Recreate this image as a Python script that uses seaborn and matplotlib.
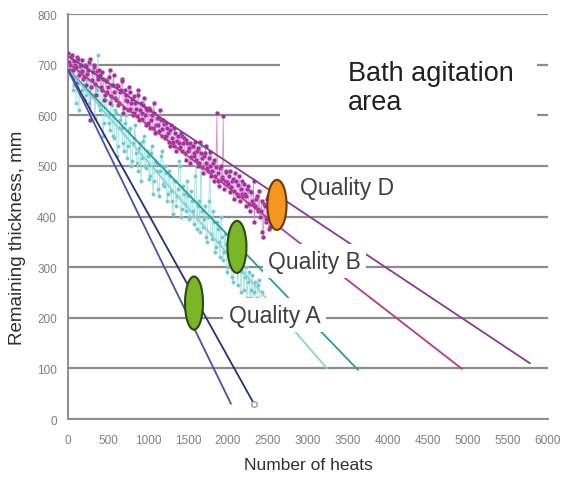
import matplotlib
matplotlib.use("Agg")
import matplotlib.pyplot as plt
from matplotlib.patches import Ellipse, Rectangle
import seaborn as sns
import pandas as pd

sns.set_style("white")
plt.rcParams['font.family'] = ['Liberation Sans', 'DejaVu Sans']

# ---- data ----
mag_x = list(range(0, 2561, 20))
mag_y = [722, 700, 715, 690, 708, 695, 712, 680, 700, 688,
         675, 698, 682, 705, 590, 670, 695, 662, 688, 672,
         680, 650, 672, 640, 668, 655, 690, 638, 660, 645,
         630, 658, 625, 650, 668, 615, 640, 628, 655, 612,
         632, 605, 625, 598, 640, 610, 592, 620, 600, 615,
         585, 610, 590, 575, 605, 580, 595, 568, 590, 572,
         582, 560, 575, 548, 570, 555, 540, 565, 550, 560,
         538, 560, 545, 525, 552, 530, 545, 518, 540, 525,
         512, 535, 505, 525, 498, 520, 540, 495, 515, 500,
         490, 512, 480, 605, 470, 495, 478, 598, 470, 488,
         465, 490, 458, 475, 450, 470, 440, 480, 455, 445,
         465, 440, 455, 425, 450, 430, 470, 420, 440, 410,
         400, 430, 360, 420, 395, 440, 380, 415, 400]
mag2_x = list(range(10, 2551, 20))
mag2_y = [705, 690, 720, 675, 700, 715, 665, 698, 710, 672,
          700, 660, 690, 712, 655, 685, 700, 640, 675, 690,
          655, 685, 630, 670, 645, 675, 625, 660, 680, 635,
          660, 620, 645, 672, 605, 650, 630, 610, 645, 625,
          600, 638, 612, 650, 590, 625, 605, 635, 580, 610,
          615, 575, 600, 625, 565, 595, 580, 610, 560, 590,
          555, 585, 565, 540, 580, 548, 575, 530, 560, 545,
          565, 530, 555, 512, 545, 535, 505, 540, 520, 548,
          530, 500, 548, 515, 485, 525, 505, 490, 528, 480,
          505, 470, 498, 485, 460, 500, 475, 455, 490, 468,
          480, 448, 470, 435, 485, 445, 462, 430, 470, 440,
          445, 420, 460, 410, 448, 425, 390, 435, 415, 450,
          410, 370, 425, 390, 435, 375, 410, 395]

cy_x = list(range(0, 2426, 25))
cy_y = [700, 680, 715, 660, 625, 705, 690, 650, 700, 640,
        670, 600, 690, 640, 655, 720, 610, 650, 585, 630,
        600, 570, 620, 555, 605, 540, 590, 575, 530, 600,
        540, 575, 510, 555, 525, 490, 545, 515, 560, 495,
        520, 480, 540, 470, 505, 455, 490, 530, 460, 485,
        445, 480, 430, 470, 420, 455, 500, 415, 445, 410,
        440, 400, 430, 385, 500, 420, 370, 410, 395, 360,
        400, 520, 355, 390, 340, 375, 320, 360, 330, 345,
        300, 345, 280, 370, 310, 265, 330, 290, 255, 300,
        270, 240, 285, 250, 230, 265, 200, 250]
cy2_x = list(range(12, 2413, 25))
cy2_y = [690, 720, 650, 700, 670, 610, 695, 660, 630, 685,
         625, 670, 700, 595, 650, 620, 675, 560, 640, 600,
         585, 630, 560, 610, 520, 575, 600, 545, 585, 515,
         570, 500, 545, 580, 505, 535, 470, 550, 500, 530,
         475, 525, 445, 510, 490, 440, 520, 465, 500, 430,
         490, 450, 405, 470, 440, 510, 400, 460, 425, 470,
         395, 450, 410, 480, 375, 430, 540, 380, 420, 350,
         430, 365, 410, 330, 390, 350, 400, 315, 365, 290,
         350, 310, 270, 335, 295, 350, 250, 310, 280, 240,
         290, 255, 215, 270, 240, 275, 220]

# trend lines: start / end points
trend_names = ["purple", "magenta", "teal_dark", "teal_light", "navy", "blue"]
trend_x0 = [0, 0, 0, 0, 0, 0]
trend_y0 = [717, 703, 690, 690, 690, 690]
trend_x1 = [5775, 4925, 3625, 3237, 2325, 2037]
trend_y1 = [110, 99, 97, 100, 30, 30]
trend_colors = ["#8a3a92", "#b8388e", "#2a9c9c", "#86d4d4", "#2a2f78", "#4a50a8"]

# quality ellipses
q_labels = ["Quality D", "Quality B", "Quality A"]
q_x = [2612, 2112, 1575]
q_y = [423, 340, 229]
q_w = [240, 237, 225]
q_h = [99, 103, 105]
q_colors = ["#f5961e", "#7ab628", "#7ab628"]
q_edges = ["#6b3a0a", "#2e4a10", "#2e4a10"]
q_text_x = [2900, 2500, 2010]
q_text_y = [458, 312, 205]

x_ticks = list(range(0, 6001, 500))
y_ticks = list(range(0, 801, 100))

mag = pd.DataFrame({"x": mag_x + mag2_x, "y": mag_y + mag2_y}).sort_values("x")
cy = pd.DataFrame({"x": cy_x + cy2_x, "y": cy_y + cy2_y}).sort_values("x")

# ---- figure ----
fig = plt.figure(figsize=(5.64, 4.81), dpi=100)
ax = fig.add_axes([0.1206, 0.1268, 0.851, 0.842])

for y in y_ticks:
    ax.axhline(y, color="#8c8c8c", lw=1.6, zorder=0)

# data series
sns.lineplot(data=cy, x="x", y="y", sort=False, ax=ax, color="#9adcdc", lw=0.6, alpha=0.9, zorder=2)
sns.scatterplot(data=cy, x="x", y="y", ax=ax, color="#6cc8c8", s=7, edgecolor="#a8e2e2", linewidth=0.3, zorder=3)
sns.lineplot(data=mag, x="x", y="y", sort=False, ax=ax, color="#d08ac8", lw=0.6, alpha=0.9, zorder=2)
sns.scatterplot(data=mag, x="x", y="y", ax=ax, color="#a0309a", s=9, edgecolor="#d070c8", linewidth=0.3, zorder=3)

for i in range(len(trend_names)):
    sns.lineplot(x=[trend_x0[i], trend_x1[i]], y=[trend_y0[i], trend_y1[i]], ax=ax,
                 color=trend_colors[i], lw=1.3, zorder=4)
ax.plot(trend_x1[4], trend_y1[4], marker="o", ms=4, mfc="white", mec="#9a9ac0", zorder=5)

for i in range(len(q_labels)):
    ax.add_patch(Ellipse((q_x[i], q_y[i]), q_w[i], q_h[i], facecolor=q_colors[i],
                         edgecolor=q_edges[i], lw=1.5, zorder=7))
    ax.text(q_text_x[i], q_text_y[i], q_labels[i], fontsize=16.5, color="#404040",
            va="center", ha="left", zorder=6,
            bbox=dict(facecolor="white", edgecolor="none", pad=4))

ax.add_patch(Rectangle((2650, 575), 3210, 170, facecolor="white", edgecolor="none", zorder=5))
ax.text(3500, 655, "Bath agitation\narea", fontsize=19.5, color="#202020", va="center", ha="left",
        linespacing=1.15, zorder=6)

ax.set_xlim(0, 6000)
ax.set_ylim(0, 800)
ax.set_xticks(x_ticks)
ax.set_yticks(y_ticks)
ax.tick_params(axis="both", labelsize=8.5, colors="#808080", length=3, direction="out")
ax.tick_params(axis="x", pad=8)
ax.tick_params(axis="y", pad=5)
for s in ["top", "right"]:
    ax.spines[s].set_visible(False)
for s in ["left", "bottom"]:
    ax.spines[s].set_color("#8c8c8c")
    ax.spines[s].set_linewidth(1.4)

ax.set_xlabel("Number of heats", fontsize=12.5, color="#303030", labelpad=8)
ax.set_ylabel("Remaining thickness, mm", fontsize=13.5, color="#303030")
ax.yaxis.set_label_coords(-0.0875, 0.449)

fig.savefig("out.png", dpi=100, facecolor="white")
